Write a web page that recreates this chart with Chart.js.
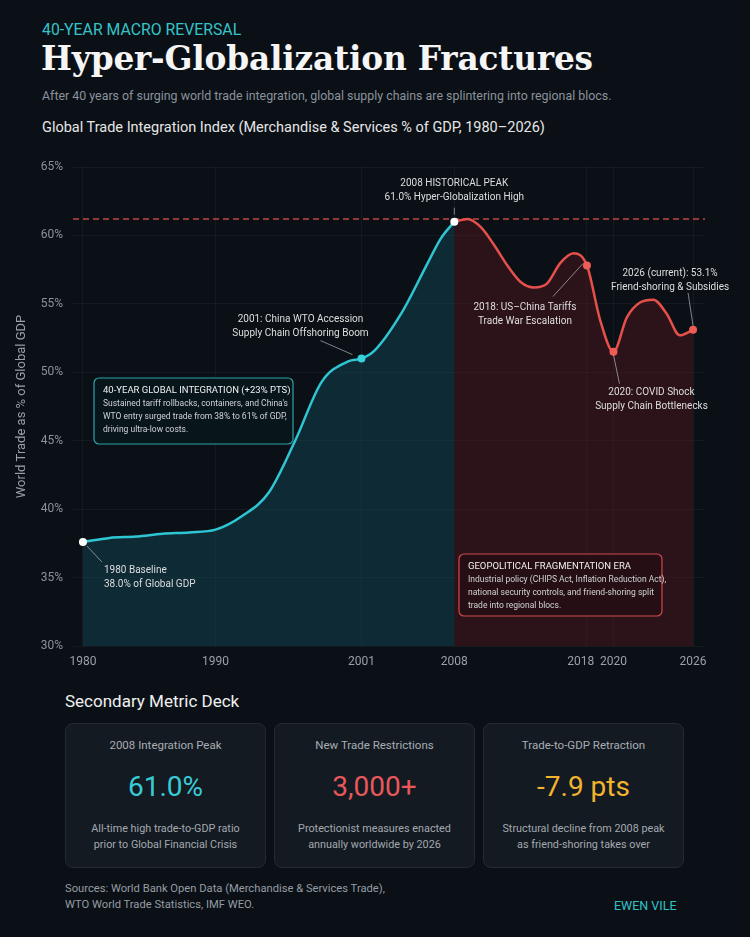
<!DOCTYPE html>
<html lang="en">
<head>
<meta charset="UTF-8">
<title>Hyper-Globalization Fractures</title>
<script src="https://cdn.jsdelivr.net/npm/chart.js"></script>
<style>
    html, body { margin: 0; padding: 0; }
    body {
        width: 750px; height: 937px; position: relative; overflow: hidden;
        background: #0b1016; font-family: Roboto, "Noto Sans", sans-serif; color: #e8e8e8;
    }
    .abs { position: absolute; white-space: nowrap; }
    #kicker { left: 42px; top: 21px; font-size: 15.8px; line-height: 18px; color: #35c3c8; }
    #title { left: 41px; top: 39px; font-family: "DejaVu Serif", "Liberation Serif", serif; font-weight: bold;
             font-size: 32.8px; line-height: 40px; color: #f5f5f5; letter-spacing: -0.2px; }
    #subtitle { left: 42px; top: 88px; font-size: 12.4px; line-height: 16px; color: #8a929b; }
    #chartTitle { left: 42px; top: 119px; font-size: 14.5px; line-height: 18px; color: #e6e6e6; }
    #chartBox { position: absolute; left: 0; top: 140px; width: 750px; height: 540px; }
    #deckTitle { left: 65px; top: 690px; font-size: 17px; line-height: 22px; color: #f0f0f0; }
    #cards { position: absolute; left: 65px; top: 723px; width: 619px; height: 145px; display: flex; gap: 8px; }
    .card { flex: 1; background: #141a21; border: 1px solid #232a32; border-radius: 8px; text-align: center; position: relative; }
    .card .t { position: absolute; left: 0; right: 0; top: 14px; font-size: 11.5px; color: #a7adb4; }
    .card .v { position: absolute; left: 0; right: 0; top: 46px; font-size: 28px; line-height: 34px; }
    .card .d { position: absolute; left: 0; right: 0; top: 97px; font-size: 10.8px; line-height: 16px; color: #a3a9b0; }
    #sources { left: 65px; top: 881px; font-size: 11.2px; line-height: 16px; color: #959ca4; }
    #brand { left: 614px; top: 898px; font-size: 12.5px; line-height: 16px; color: #33c2c6; }
</style>
</head>
<body>
    <div class="abs" id="kicker">40-YEAR MACRO REVERSAL</div>
    <div class="abs" id="title">Hyper-Globalization Fractures</div>
    <div class="abs" id="subtitle">After 40 years of surging world trade integration, global supply chains are splintering into regional blocs.</div>
    <div class="abs" id="chartTitle">Global Trade Integration Index (Merchandise &amp; Services % of GDP, 1980–2026)</div>

    <div id="chartBox"><canvas id="tradeChart"></canvas></div>

    <div class="abs" id="deckTitle">Secondary Metric Deck</div>
    <div id="cards">
        <div class="card"><div class="t">2008 Integration Peak</div><div class="v" style="color:#38cbd6">61.0%</div><div class="d">All-time high trade-to-GDP ratio<br>prior to Global Financial Crisis</div></div>
        <div class="card"><div class="t">New Trade Restrictions</div><div class="v" style="color:#e8585a">3,000+</div><div class="d">Protectionist measures enacted<br>annually worldwide by 2026</div></div>
        <div class="card"><div class="t">Trade-to-GDP Retraction</div><div class="v" style="color:#f2b42e">-7.9 pts</div><div class="d">Structural decline from 2008 peak<br>as friend-shoring takes over</div></div>
    </div>

    <div class="abs" id="sources">Sources: World Bank Open Data (Merchandise &amp; Services Trade),<br>WTO World Trade Statistics, IMF WEO.</div>
    <div class="abs" id="brand">EWEN VILE</div>

<script>
// integration era (teal) and fragmentation era (red), trade as % of GDP
const blueYears  = [1980, 1982, 1984, 1986, 1988, 1990, 1992, 1994, 1996, 1998, 2000, 2001, 2002, 2004, 2006, 2007, 2008];
const blueValues = [37.6, 37.9, 38.0, 38.2, 38.3, 38.5, 39.5, 41.2, 45.0, 49.3, 50.8, 51.0, 51.6, 54.3, 58.0, 59.8, 61.0];
const redYears   = [2008, 2009, 2010, 2011, 2012, 2013, 2014, 2015, 2016, 2017, 2018, 2019, 2020, 2021, 2022, 2023, 2024, 2025, 2026];
const redValues  = [61.0, 61.2, 60.6, 59.3, 57.8, 56.6, 56.2, 56.5, 58.0, 58.7, 57.8, 53.8, 51.5, 54.0, 55.1, 55.3, 54.3, 52.7, 53.1];

const xTickYears = [1980, 1990, 2001, 2008, 2018, 2020, 2026];
const yTicks = [30, 35, 40, 45, 50, 55, 60, 65];

const markerYears  = [1980, 2001, 2008, 2018, 2020, 2026];
const markerColors = ['#ffffff', '#37d0dc', '#ffffff', '#ef5b55', '#ef5b55', '#ef5b55'];
const calloutText = [
    ['1980 Baseline', '38.0% of Global GDP'],
    ['2001: China WTO Accession', 'Supply Chain Offshoring Boom'],
    ['2008 HISTORICAL PEAK', '61.0% Hyper-Globalization High'],
    ['2018: US–China Tariffs', 'Trade War Escalation'],
    ['2020: COVID Shock', 'Supply Chain Bottlenecks'],
    ['2026 (current): 53.1%', 'Friend-shoring & Subsidies']
];
const boxText = {
    blue: ['40-YEAR GLOBAL INTEGRATION (+23% PTS)', 'Sustained tariff rollbacks, containers, and China\'s', 'WTO entry surged trade from 38% to 61% of GDP,', 'driving ultra-low costs.'],
    red: ['GEOPOLITICAL FRAGMENTATION ERA', 'Industrial policy (CHIPS Act, Inflation Reduction Act),', 'national security controls, and friend-shoring split', 'trade into regional blocs.']
};

function valueAt(year) {
    let i = blueYears.indexOf(year);
    if (i >= 0) return blueValues[i];
    return redValues[redYears.indexOf(year)];
}
const peakLine = Math.max(...blueValues, ...redValues);

const pts = (xs, ys) => xs.map((x, i) => ({ x: x, y: ys[i] }));

// label placement relative to marker: [text dx, text dy, align, leader from dx/dy, leader to dx/dy]
const calloutLayout = [
    [21, 29, 'left', 4, 4, 19, 20],
    [-61, -39, 'center', -9, -4, -41, -18],
    [0, -38, 'center', 0, -7, 0, -14],
    [-62, 42, 'center', -4, -2, -34, 31],
    [38, 41, 'center', 0, 3, 6, 32],
    [-23, -56, 'center', 0, -4, -5, -37]
];

function roundRect(ctx, x, y, w, h, r) {
    ctx.beginPath();
    ctx.moveTo(x + r, y);
    ctx.arcTo(x + w, y, x + w, y + h, r);
    ctx.arcTo(x + w, y + h, x, y + h, r);
    ctx.arcTo(x, y + h, x, y, r);
    ctx.arcTo(x, y, x + w, y, r);
    ctx.closePath();
}

const annotations = {
    id: 'annotations',
    beforeDatasetsDraw(chart) {
        const { ctx, chartArea, scales } = chart;
        const y = scales.y.getPixelForValue(peakLine);
        ctx.save();
        ctx.strokeStyle = 'rgba(224, 80, 78, 0.85)';
        ctx.lineWidth = 1.5;
        ctx.setLineDash([6, 4]);
        ctx.beginPath();
        ctx.moveTo(chartArea.left, y);
        ctx.lineTo(chartArea.right, y);
        ctx.stroke();
        ctx.restore();
    },
    afterDatasetsDraw(chart) {
        const { ctx, scales } = chart;
        ctx.save();
        // callouts
        markerYears.forEach((yr, i) => {
            const px = scales.x.getPixelForValue(yr);
            const py = scales.y.getPixelForValue(valueAt(yr));
            const L = calloutLayout[i];
            ctx.strokeStyle = 'rgba(205, 210, 215, 0.6)';
            ctx.lineWidth = 1;
            ctx.beginPath();
            ctx.moveTo(px + L[3], py + L[4]);
            ctx.lineTo(px + L[5], py + L[6]);
            ctx.stroke();
            ctx.fillStyle = '#dedede';
            ctx.font = '10px Roboto';
            ctx.textAlign = L[2];
            ctx.textBaseline = 'middle';
            calloutText[i].forEach((line, k) => ctx.fillText(line, px + L[0], py + L[1] + k * 14));
        });
        // era boxes
        const drawBox = (x, y, w, h, stroke, fill, lines) => {
            roundRect(ctx, x, y, w, h, 5);
            ctx.fillStyle = fill;
            ctx.fill();
            ctx.strokeStyle = stroke;
            ctx.lineWidth = 1.2;
            ctx.stroke();
            ctx.textAlign = 'left';
            ctx.textBaseline = 'middle';
            lines.forEach((line, k) => {
                ctx.font = k === 0 ? '9.5px Roboto' : '8.5px Roboto';
                ctx.fillStyle = k === 0 ? '#f0f0f0' : '#cfd2d5';
                ctx.fillText(line, x + 9, y + 13 + k * 13);
            });
        };
        drawBox(94, 238, 199, 66, '#2aa5a8', 'rgba(9, 22, 28, 0.92)', boxText.blue);
        drawBox(459, 414, 203, 62, '#cf4a4d', 'rgba(38, 16, 20, 0.92)', boxText.red);
        ctx.restore();
    }
};

// nudge the two close labels apart
const tickLabel = v => v === 2018 ? '2018\u2003' : String(v);

const ctx = document.getElementById('tradeChart').getContext('2d');
new Chart(ctx, {
    type: 'line',
    data: {
        datasets: [
            {
                label: 'Integration markers',
                data: pts(markerYears, markerYears.map(valueAt)),
                showLine: false,
                pointRadius: 4,
                pointBackgroundColor: markerColors,
                pointBorderColor: markerColors,
                pointBorderWidth: 0,
                order: 0
            },
            {
                label: 'Integration era',
                data: pts(blueYears, blueValues),
                borderColor: '#2fc6d3',
                borderWidth: 2.5,
                backgroundColor: 'rgba(16, 72, 90, 0.47)',
                fill: 'start',
                pointRadius: 0,
                cubicInterpolationMode: 'monotone',
                order: 1
            },
            {
                label: 'Fragmentation era',
                data: pts(redYears, redValues),
                borderColor: '#e5504b',
                borderWidth: 2.5,
                backgroundColor: 'rgba(82, 24, 32, 0.47)',
                fill: 'start',
                pointRadius: 0,
                cubicInterpolationMode: 'monotone',
                order: 2
            }
        ]
    },
    options: {
        responsive: true,
        maintainAspectRatio: false,
        animation: false,
        layout: { padding: { top: 27, right: 45, left: 14, bottom: 0 } },
        plugins: { legend: { display: false }, tooltip: { enabled: false } },
        scales: {
            x: {
                type: 'linear',
                min: 1979.25,
                max: 2026.9,
                afterBuildTicks: axis => { axis.ticks = xTickYears.map(v => ({ value: v })); },
                afterFit: scale => { scale.height = 34; },
                ticks: { color: '#9aa0a7', font: { size: 12, family: 'Roboto' }, padding: 9, autoSkip: false, maxRotation: 0, callback: tickLabel },
                grid: { color: 'rgba(255,255,255,0.045)', drawTicks: false },
                border: { display: false }
            },
            y: {
                min: 30,
                max: 65,
                afterBuildTicks: axis => { axis.ticks = yTicks.map(v => ({ value: v })); },
                afterFit: scale => { scale.width = 59; },
                ticks: { color: '#8b929a', font: { size: 12, family: 'Roboto' }, padding: 10, callback: v => v + '%' },
                grid: { color: 'rgba(255,255,255,0.045)', drawTicks: false },
                border: { display: false },
                title: {
                    display: true,
                    text: 'World Trade as % of Global GDP',
                    color: '#98a0a8',
                    font: { size: 13, family: 'Roboto' },
                    padding: { top: 0, bottom: 0 }
                }
            }
        }
    },
    plugins: [annotations]
});
</script>
</body>
</html>
